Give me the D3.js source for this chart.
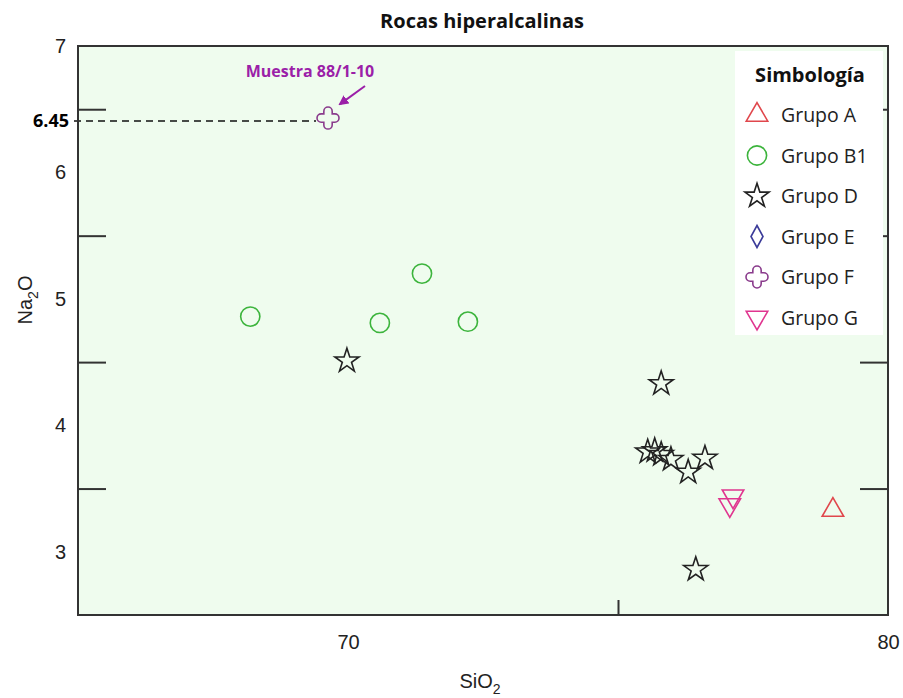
<!DOCTYPE html>
<html>
<head>
<meta charset="utf-8">
<style>
  body { margin: 0; background: white; }
  text { font-family: "Liberation Sans", Arial, sans-serif; }
  .sans { font-family: "Open Sans", "Noto Sans", sans-serif; }
</style>
</head>
<body>
<script src="https://d3js.org/d3.v7.min.js"></script>
<script>
// data
var grupoA = [[78.98, 3.33]];
var grupoB1 = [[68.19, 4.86], [70.59, 4.81], [71.37, 5.20], [72.22, 4.82]];
var grupoD = [[69.98, 4.51], [75.80, 4.33], [75.55, 3.79], [75.68, 3.80],
              [75.80, 3.77], [75.98, 3.73], [76.30, 3.63], [76.61, 3.74], [76.44, 2.86]];
var grupoE = [];
var grupoF = [[69.63, 6.43]];
var grupoG = [[77.13, 3.44], [77.07, 3.37]];

var xLabels = [70, 80];
var yLabels = [3, 4, 5, 6, 7];
var yMinor = [3.5, 4.5, 5.5, 6.5];
var xMinor = [75];

var width = 903, height = 698;
var pLeft = 78, pRight = 888, pTop = 46, pBottom = 615;

var svg = d3.select("body").append("svg")
  .attr("width", width).attr("height", height);

var x = d3.scaleLinear().domain([65, 80]).range([pLeft, pRight]);
var y = d3.scaleLinear().domain([2.5, 7]).range([pBottom, pTop]);

// plot background
svg.append("rect")
  .attr("x", pLeft).attr("y", pTop)
  .attr("width", pRight - pLeft).attr("height", pBottom - pTop)
  .attr("fill", "#effcee");

// shapes
function crossPath(r) {
  // rounded four-lobed cross
  var a = r * 0.38;
  return "M" + (-a) + "," + (-a) +
    "L" + (-a) + "," + (-r + a) + "A" + a + "," + a + " 0 0 1 " + a + "," + (-r + a) +
    "L" + a + "," + (-a) +
    "L" + (r - a) + "," + (-a) + "A" + a + "," + a + " 0 0 1 " + (r - a) + "," + a +
    "L" + a + "," + a +
    "L" + a + "," + (r - a) + "A" + a + "," + a + " 0 0 1 " + (-a) + "," + (r - a) +
    "L" + (-a) + "," + a +
    "L" + (-r + a) + "," + a + "A" + a + "," + a + " 0 0 1 " + (-r + a) + "," + (-a) + "Z";
}
var groups = [
  { name: "Grupo A", data: grupoA, color: "#e0474c", path: d3.symbol(d3.symbolTriangle, 200)() },
  { name: "Grupo B1", data: grupoB1, color: "#3cb43c", path: d3.symbol(d3.symbolCircle, 290)() },
  { name: "Grupo D", data: grupoD, color: "#222222", path: d3.symbol(d3.symbolStar, 180)() },
  { name: "Grupo E", data: grupoE, color: "#3b3b99", path: "M0,-11L6,0L0,11L-6,0Z" },
  { name: "Grupo F", data: grupoF, color: "#8a3b8c", path: crossPath(11) },
  { name: "Grupo G", data: grupoG, color: "#e0358f", path: d3.symbol(d3.symbolTriangle, 200)(), flip: true }
];

// dashed guide to the sample (drawn just under its centre, as in the source)
var guideY = y(grupoF[0][1]) + 3;
svg.append("line")
  .attr("x1", 74).attr("x2", x(grupoF[0][0]) - 12)
  .attr("y1", guideY).attr("y2", guideY)
  .attr("stroke", "#111").attr("stroke-width", 1.6)
  .attr("stroke-dasharray", "7,5");
svg.append("text")
  .attr("x", 69).attr("y", guideY + 6)
  .attr("text-anchor", "end").attr("class", "sans")
  .style("font-size", "18px").style("font-weight", "bold")
  .text("6.45");

// points
groups.forEach(function(g) {
  svg.append("g").selectAll("path").data(g.data).enter().append("path")
    .attr("d", g.path)
    .attr("transform", function(d) {
      return "translate(" + x(d[0]) + "," + y(d[1]) + ")" + (g.flip ? " rotate(180)" : "");
    })
    .attr("fill", "none").attr("stroke", g.color).attr("stroke-width", 1.6);
});

// axes: labels at integers, inward ticks at halves
svg.append("g").attr("transform", "translate(" + pLeft + ",0)")
  .call(d3.axisLeft(y).tickValues(yLabels).tickSize(0).tickPadding(12).tickFormat(d3.format("d")))
  .call(function(g) { g.select(".domain").remove(); })
  .selectAll("text").style("font-size", "20px").attr("fill", "#222")
  .style("font-family", "'Liberation Sans', Arial, sans-serif");
svg.append("g").attr("transform", "translate(" + pLeft + ",0)")
  .call(d3.axisLeft(y).tickValues(yMinor).tickSize(-28).tickFormat(""))
  .call(function(g) { g.select(".domain").remove(); g.selectAll("line").attr("stroke", "#333").attr("stroke-width", 2); });
svg.append("g").attr("transform", "translate(" + pRight + ",0)")
  .call(d3.axisRight(y).tickValues(yMinor).tickSize(-28).tickFormat(""))
  .call(function(g) { g.select(".domain").remove(); g.selectAll("line").attr("stroke", "#333").attr("stroke-width", 2); });
svg.append("g").attr("transform", "translate(0," + pBottom + ")")
  .call(d3.axisBottom(x).tickValues(xLabels).tickSize(0).tickPadding(20).tickFormat(d3.format("d")))
  .call(function(g) { g.select(".domain").remove(); })
  .selectAll("text").style("font-size", "20px").attr("fill", "#222")
  .style("font-family", "'Liberation Sans', Arial, sans-serif");
svg.append("g").attr("transform", "translate(0," + pBottom + ")")
  .call(d3.axisBottom(x).tickValues(xMinor).tickSize(-15).tickFormat(""))
  .call(function(g) { g.select(".domain").remove(); g.selectAll("line").attr("stroke", "#333").attr("stroke-width", 2); });

// legend
var lg = svg.append("g");
lg.append("rect").attr("x", 735).attr("y", 51).attr("width", 148).attr("height", 284).attr("fill", "white");
lg.append("text").attr("x", 810).attr("y", 82).attr("text-anchor", "middle").attr("class", "sans")
  .style("font-size", "20px").style("font-weight", "bold").attr("fill", "#111").text("Simbología");
var entries = lg.selectAll("g.entry").data(groups).enter().append("g")
  .attr("transform", function(d, i) { return "translate(757," + (115 + i * 40.5) + ")"; });
entries.append("path")
  .attr("d", function(d) { return d.path; })
  .attr("transform", function(d) { return d.flip ? "rotate(180)" : null; })
  .attr("fill", "none").attr("stroke", function(d) { return d.color; }).attr("stroke-width", 1.6);
entries.append("text").attr("x", 24).attr("y", 7).attr("class", "sans")
  .style("font-size", "19.5px").attr("fill", "#222").text(function(d) { return d.name; });

// frame
svg.append("rect")
  .attr("x", pLeft).attr("y", pTop)
  .attr("width", pRight - pLeft).attr("height", pBottom - pTop)
  .attr("fill", "none").attr("stroke", "#333").attr("stroke-width", 2);

// annotation
svg.append("defs").append("marker")
  .attr("id", "arr").attr("viewBox", "0 0 10 10").attr("refX", 8).attr("refY", 5)
  .attr("markerWidth", 5).attr("markerHeight", 5).attr("orient", "auto")
  .append("path").attr("d", "M0,0L10,5L0,10Z").attr("fill", "#9b1fa8");
svg.append("line")
  .attr("x1", 365).attr("y1", 86).attr("x2", x(grupoF[0][0]) + 12).attr("y2", y(grupoF[0][1]) - 14)
  .attr("stroke", "#9b1fa8").attr("stroke-width", 2).attr("marker-end", "url(#arr)");
svg.append("text").attr("x", 310).attr("y", 77).attr("text-anchor", "middle").attr("class", "sans")
  .style("font-size", "16px").style("font-weight", "bold").attr("fill", "#9b1fa8")
  .text("Muestra 88/1-10");

// titles
svg.append("text").attr("x", 482).attr("y", 28).attr("text-anchor", "middle").attr("class", "sans")
  .style("font-size", "20px").style("font-weight", "bold").attr("fill", "#111")
  .text("Rocas hiperalcalinas");
var xt = svg.append("text").attr("x", 480).attr("y", 688).attr("text-anchor", "middle")
  .style("font-size", "20px").attr("fill", "#222");
xt.append("tspan").text("SiO");
xt.append("tspan").attr("dy", 6).style("font-size", "14px").text("2");
var yt = svg.append("text").attr("transform", "translate(32,300) rotate(-90)").attr("text-anchor", "middle")
  .style("font-size", "20px").attr("fill", "#222");
yt.append("tspan").text("Na");
yt.append("tspan").attr("dy", 6).style("font-size", "14px").text("2");
yt.append("tspan").attr("dy", -6).text("O");
</script>
</body>
</html>
